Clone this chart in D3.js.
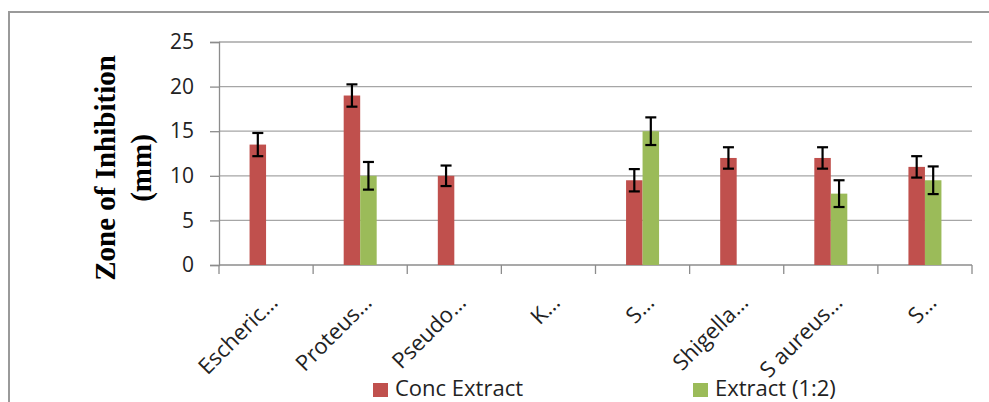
<!DOCTYPE html>
<html><head><meta charset="utf-8">
<script src="https://cdn.jsdelivr.net/npm/d3@7"></script>
<style>body{margin:0;background:#fff}svg{display:block}</style>
</head><body>
<script>
const categories = ["Escheric…","Proteus…","Pseudo…","K…","S…","Shigella…","S aureus…","S…"];
const concExtract = [13.5, 19, 10, null, 9.5, 12, 12, 11];
const concErr = [1.3, 1.25, 1.15, null, 1.25, 1.2, 1.2, 1.2];
const extract12 = [null, 10, null, null, 15, null, 8, 9.5];
const extract12Err = [null, 1.55, null, null, 1.55, null, 1.5, 1.55];
const seriesNames = ["Conc Extract", "Extract (1:2)"];
const seriesColors = ["#C0504D", "#9BBB59"];
const yTicks = [0, 5, 10, 15, 20, 25];

(function(){
const W = 989, H = 402;
const svg = d3.select("body").append("svg").attr("width", W).attr("height", H);
svg.append("rect").attr("x", 9).attr("y", 12).attr("width", W).attr("height", H)
  .attr("fill", "#fff").attr("stroke", "#9a9a9a").attr("stroke-width", 2);

const mL = 219, mR = 972, mT = 42, mB = 265;
const x = d3.scaleBand().domain(categories.map((d,i)=>i)).range([mL, mR]);
const y = d3.scaleLinear().domain([0, 25]).range([mB, mT]);
const x1 = d3.scaleBand().domain([0,1]).range([0, 33]);
const bw = x1.bandwidth();

svg.append("g").selectAll("line").data(yTicks.filter(t=>t>0)).join("line")
  .attr("x1", mL).attr("x2", mR).attr("y1", d=>y(d)).attr("y2", d=>y(d))
  .attr("stroke", "#a6a6a6").attr("stroke-width", 1.3);

const yAxis = svg.append("g").attr("transform", `translate(${mL},0)`)
  .call(d3.axisLeft(y).tickValues(yTicks).tickSize(9).tickPadding(16));
yAxis.select(".domain").attr("stroke", "#8c8c8c").attr("stroke-width", 1.3);
yAxis.selectAll(".tick line").attr("stroke", "#8c8c8c").attr("stroke-width", 1.3);
yAxis.selectAll(".tick text").attr("font-family", "Open Sans").attr("font-size", 21).attr("fill", "#222");

const xAxis = svg.append("g").attr("transform", `translate(0,${mB})`);
xAxis.append("line").attr("x1", mL).attr("x2", mR).attr("stroke", "#8c8c8c").attr("stroke-width", 1.3);
const tickPos = categories.map((d,i)=>x(i)).concat([mR]);
xAxis.selectAll(".tk").data(tickPos).join("line").attr("class","tk")
  .attr("x1", d=>d).attr("x2", d=>d).attr("y1", 0).attr("y2", 9)
  .attr("stroke", "#8c8c8c").attr("stroke-width", 1.3);
xAxis.selectAll("text").data(categories).join("text")
  .attr("transform", (d,i)=>`translate(${x(i)+x.bandwidth()/2+13},${39}) rotate(-45)`)
  .attr("text-anchor", "end")
  .attr("font-family", "Open Sans").attr("font-size", 22).attr("fill", "#222")
  .text(d=>d);

const seriesVals = [concExtract, extract12];
const seriesErrs = [concErr, extract12Err];
seriesVals.forEach((vals, s) => {
  const g = svg.append("g");
  vals.forEach((v, i) => {
    if (v == null) return;
    const bx = x(i) + x.bandwidth()/2 - 16.5 + x1(s);
    g.append("rect").attr("x", bx).attr("y", y(v)).attr("width", bw).attr("height", y(0)-y(v))
      .attr("fill", seriesColors[s]);
  });
});
seriesVals.forEach((vals, s) => {
  const g = svg.append("g").attr("stroke", "#000").attr("stroke-width", 2.2);
  vals.forEach((v, i) => {
    if (v == null) return;
    const e = seriesErrs[s][i];
    const cx = x(i) + x.bandwidth()/2 - 16.5 + x1(s) + bw/2;
    g.append("line").attr("x1", cx).attr("x2", cx).attr("y1", y(v+e)).attr("y2", y(v-e));
    [v+e, v-e].forEach(t => g.append("line").attr("x1", cx-5.5).attr("x2", cx+5.5).attr("y1", y(t)).attr("y2", y(t)));
  });
});

const yt = svg.append("text").attr("transform", "translate(0,168) rotate(-90)")
  .attr("text-anchor", "middle").attr("font-family", "Liberation Serif").attr("font-weight", "bold")
  .attr("font-size", 29).attr("fill", "#000");
yt.append("tspan").attr("x", 0).attr("y", 115).text("Zone of Inhibition");
yt.append("tspan").attr("x", 0).attr("y", 151).text("(mm)");

const legX = [373, 693];
seriesNames.forEach((n, s) => {
  svg.append("rect").attr("x", legX[s]).attr("y", 383).attr("width", 15).attr("height", 14).attr("fill", seriesColors[s]);
  svg.append("text").attr("x", legX[s]+22).attr("y", 396).attr("font-family", "Open Sans").attr("font-size", 22)
    .attr("fill", "#222").text(n);
});
})();
</script>
</body></html>
